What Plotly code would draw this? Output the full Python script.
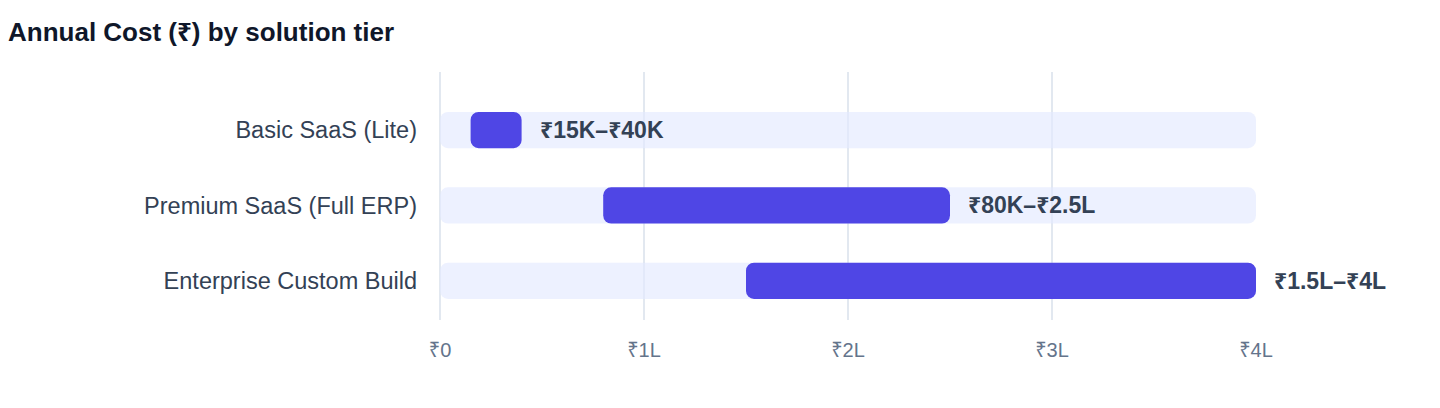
import plotly.graph_objects as go

# values in lakhs of rupees (1L = 100K)
tiers = ["Basic SaaS (Lite)", "Premium SaaS (Full ERP)", "Enterprise Custom Build"]
cost_low = [0.15, 0.8, 1.5]
cost_high = [0.4, 2.5, 4.0]
range_labels = ["₹15K–₹40K", "₹80K–₹2.5L", "₹1.5L–₹4L"]
track_max = [4, 4, 4]
tick_vals = [0, 1, 2, 3, 4]
tick_text = ["₹0", "₹1L", "₹2L", "₹3L", "₹4L"]

FONT = "Liberation Sans, Noto Sans, DejaVu Sans, sans-serif"

fig = go.Figure()

# background track
fig.add_trace(go.Bar(
    y=tiers, x=track_max, base=[0] * len(tiers), orientation="h",
    marker=dict(color="rgba(228,234,255,0.65)", cornerradius=8, line_width=0),
    width=0.48, hoverinfo="skip", showlegend=False,
))

# cost range bar
fig.add_trace(go.Bar(
    y=tiers, x=[h - l for l, h in zip(cost_low, cost_high)], base=cost_low,
    orientation="h",
    marker=dict(color="#4f46e5", cornerradius=8, line_width=0),
    width=0.48, showlegend=False,
    customdata=range_labels, hovertemplate="%{y}: %{customdata}<extra></extra>",
))

for t, h, lab in zip(tiers, cost_high, range_labels):
    fig.add_annotation(
        x=h, y=t, text=f"<b>{lab}</b>", showarrow=False,
        xanchor="left", xshift=16,
        font=dict(family=FONT, size=23, color="#334155"),
    )

fig.update_layout(
    width=1432, height=400,
    margin=dict(l=432, r=184, t=64, b=88),
    paper_bgcolor="white", plot_bgcolor="white",
    barmode="overlay",
    font=dict(family=FONT),
    title=dict(
        text="<b>Annual Cost (₹) by solution tier</b>",
        x=0, xref="container", xanchor="left",
        y=1 - 24 / 400, yref="container", yanchor="middle",
        font=dict(family=FONT, size=26, color="#0f172a"),
    ),
    xaxis=dict(
        range=[0, 4], tickvals=tick_vals, ticktext=tick_text,
        showgrid=True, gridcolor="#e2e8f0", gridwidth=1.5,
        zeroline=True, zerolinecolor="#e2e8f0", zerolinewidth=1.5,
        showline=False,
        tickfont=dict(family=FONT, size=20, color="#64748b"),
        ticklabelstandoff=16,
    ),
    yaxis=dict(
        range=[2.52, -0.77], showgrid=False, zeroline=False, showline=False,
        tickfont=dict(family=FONT, size=23.5, color="#334155"),
        ticklabelstandoff=22,
    ),
)

fig.write_html("out.html")
